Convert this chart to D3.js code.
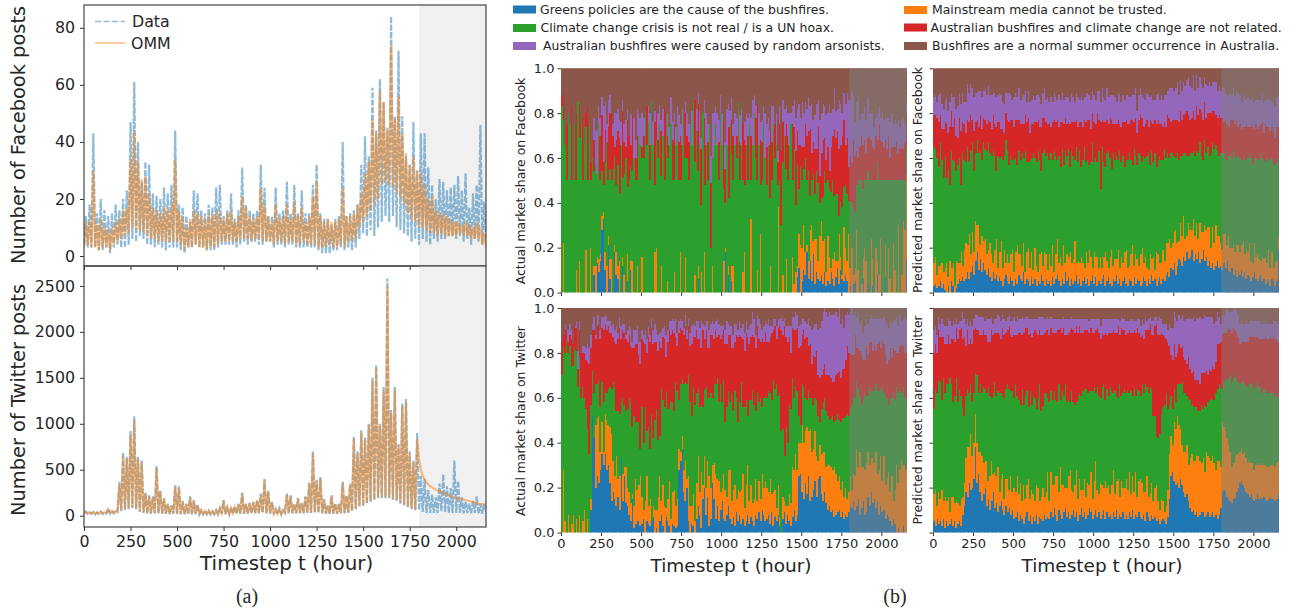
<!DOCTYPE html>
<html><head><meta charset="utf-8">
<script src="https://cdn.jsdelivr.net/npm/d3@7"></script>
<style>html,body{margin:0;background:#fff}svg{display:block}text{font-family:"DejaVu Sans";fill:#262626}</style>
</head><body><svg id="c" width="1296" height="614"></svg>
<script>
const topics=["Greens policies are the cause of the bushfires.","Climate change crisis is not real / is a UN hoax.","Australian bushfires were caused by random arsonists.","Mainstream media cannot be trusted.","Australian bushfires and climate change are not related.","Bushfires are a normal summer occurrence in Australia."];
const xTicks=[0,250,500,750,1000,1250,1500,1750,2000];
const fbTicks=[0,20,40,60,80];
const twTicks=[0,500,1000,1500,2000,2500];
const shareTicks=[0,0.2,0.4,0.6,0.8,1];
const fbData=[4,14,3,18,3,43,3,15,2,20,2,16,3,14,1,15,3,18,4,16,
3,20,3,23,4,47,6,61,5,40,7,26,6,33,4,32,4,22,3,21,
4,20,3,24,2,22,3,25,3,44,3,18,2,17,1,14,3,12,3,23,
4,22,3,16,3,15,2,18,2,17,2,24,3,25,4,14,4,16,4,22,
4,13,3,16,4,31,5,18,4,16,5,15,5,16,4,32,4,24,5,14,
5,14,3,24,4,15,4,16,3,26,4,15,4,25,3,15,3,23,3,15,
3,15,3,25,3,32,2,15,1,13,1,13,1,11,2,13,2,14,3,40,
2,14,3,15,2,16,3,18,6,32,8,42,7,35,9,59,7,44,10,62,
12,54,14,45,12,84,14,49,10,72,9,49,8,35,7,32,5,47,6,30,
4,43,6,43,5,31,4,25,6,20,5,27,6,26,6,23,7,24,7,25,
6,28,7,23,5,29,6,17,4,22,6,25,5,46,4,19,6];
const fbOMM=[3,12,4,12,3,30,3,11,2,13,3,10,3,9,2,10,4,12,5,13,
6,16,7,17,8,34,10,44,9,33,9,27,8,28,7,22,6,17,6,16,
5,15,5,17,5,16,5,18,5,34,5,16,4,14,2,10,3,13,3,16,
4,15,3,14,3,13,2,15,3,14,3,16,4,15,5,13,5,15,5,16,
5,12,5,14,6,21,6,17,6,14,5,13,6,14,6,24,5,18,5,14,
5,12,4,18,5,13,5,14,4,18,5,13,5,19,4,14,4,17,5,12,
4,14,4,21,4,26,3,14,3,12,3,13,4,12,3,12,3,13,4,24,
3,14,5,14,5,15,6,18,10,22,12,29,14,33,16,48,18,43,20,58,
25,54,26,44,25,74,24,48,22,56,20,43,18,36,15,32,13,35,12,30,
10,29,10,25,9,20,8,21,8,16,7,15,8,15,7,14,7,13,7,12,
7,12,8,11,7,12,7,11,6,10,6,12,6,10,4,8,3];
const twData=[25,45,20,35,20,40,15,35,20,45,20,40,25,75,25,55,25,50,40,370,
50,690,60,640,70,920,80,1080,70,640,40,600,30,250,20,220,20,210,25,540,
25,270,20,190,20,130,15,110,20,330,20,320,15,160,15,130,15,210,15,170,
15,120,15,60,15,55,15,55,15,50,15,60,15,80,20,170,15,90,15,90,
20,100,20,130,20,250,20,130,20,140,25,150,25,170,25,240,30,400,25,270,
20,150,15,70,15,80,15,60,30,240,25,220,25,130,25,190,25,140,25,210,
30,360,30,700,35,390,30,420,25,180,20,110,20,220,20,130,20,130,25,370,
25,220,30,350,50,860,70,700,100,930,100,850,130,1000,150,1500,170,1640,190,1000,
190,1400,190,2580,190,1150,170,1400,160,780,130,1220,110,1270,90,700,70,600,60,900,
60,430,40,400,30,280,30,230,30,200,30,350,50,450,40,320,30,300,30,600,
30,380,30,200,25,150,30,130,25,160,30,210,20,130,20,130,40];
const twOMM=[30,42,25,35,25,38,20,35,25,42,25,38,30,70,30,52,30,48,50,340,
60,650,70,620,80,880,90,1040,80,620,50,580,35,240,30,210,30,200,30,520,
30,260,25,180,25,125,20,105,25,315,25,300,20,150,20,125,20,200,20,165,
20,115,20,58,20,52,20,52,20,48,20,58,20,78,25,165,20,85,20,85,
25,95,25,125,25,240,25,125,25,135,30,145,30,165,30,230,35,390,30,260,
25,145,20,65,20,75,20,58,35,230,30,215,30,125,30,185,30,135,30,205,
35,350,35,680,40,380,35,410,30,175,25,105,25,215,25,125,25,125,30,360,
30,215,35,340,55,840,75,680,110,900,110,830,140,980,160,1470,180,1610,200,980,
200,1370,200,2500,200,1120,180,1370,170,760,140,1190,120,1240,100,680,80,580,70,
840,620,500,430,400,360,340,320,310,295,285,275,265,255,245,240,230,225,215,205,
195,190,185,180,180,175,170,165,160,155,150,145,140,130,125,125,120];
const fbActualGreens=[0,0,0,0,0,0,0,0,0,0,0,0,0,0,0,0,0,0,0,0,8,0,13,9,
14,28,33,10,0,21,6,0,0,18,8,6,0,0,12,0,0,5,0,10,0,0,0,0,
0,0,0,0,0,0,0,0,0,0,0,0,0,0,0,0,0,0,0,0,0,0,0,0,
0,0,0,0,0,0,0,0,0,0,0,0,0,6,0,0,0,0,0,0,0,0,0,0,
0,0,0,0,0,0,18,0,8,0,5,0,0,0,0,0,0,0,0,0,0,0,0,0,
0,0,0,0,0,0,0,0,0,0,0,0,0,0,0,0,0,0,0,0,0,0,0,0,
0,0,0,7,11,0,5,10,8,18,6,14,5,17,4,9,6,5,8,4,9,3,5,4,
9,6,3,7,11,4,10,6,5,8,5,0,3,0,4,5,0,0,0,0,6,0,0,4,
0,0,3,0,0,8,0,0,0,0,7,0,0,0,0,0,0,0,0,0,0,0,0,15];
const fbActualMedia=[0,22,0,0,0,0,0,0,0,10,0,14,0,0,0,19,0,0,20,0,4,12,3,6,
3,6,3,8,12,4,9,15,0,3,10,6,14,0,4,8,0,12,0,4,14,0,0,12,
0,0,16,0,0,0,0,0,0,0,18,20,0,0,12,0,0,0,5,0,0,0,9,0,
0,0,18,0,0,16,0,0,0,0,0,8,0,6,0,9,0,18,0,0,0,0,12,0,
0,0,0,0,0,14,2,0,4,0,7,12,0,0,0,0,0,9,18,0,0,0,33,0,
0,0,10,0,26,0,0,0,0,0,12,0,0,0,0,38,0,0,8,0,15,0,0,0,
16,4,9,5,15,21,15,20,10,3,8,14,25,6,20,15,8,20,24,19,15,6,20,12,
2,9,15,7,3,22,6,2,24,12,9,26,8,20,4,6,28,10,0,4,10,20,14,0,
0,24,12,0,20,6,8,24,0,0,14,0,20,6,0,22,10,0,30,0,8,32,28,38];
const fbActualClimate=[83,55,66,50,80,75,50,50,75,40,85,55,75,50,66,55,50,75,30,60,42,45,37,60,
33,20,12,40,55,25,40,35,55,40,30,45,30,66,35,45,60,30,50,42,40,60,50,38,
70,66,44,60,80,66,75,50,85,66,30,48,60,75,40,70,50,80,55,66,75,50,41,66,
75,50,32,66,80,44,60,50,75,66,85,50,72,42,66,30,80,30,66,50,75,20,48,66,
75,66,50,80,66,32,20,66,30,75,50,38,66,60,85,50,66,41,30,66,50,75,17,66,
80,60,40,66,22,50,75,60,48,66,30,50,75,60,66,10,50,30,50,70,40,50,66,75,
34,60,30,45,20,35,30,25,42,29,40,15,20,30,20,30,35,15,10,20,30,40,25,30,
34,35,25,30,30,8,25,30,18,28,30,15,30,20,30,25,20,40,50,46,30,30,36,50,
50,26,35,50,30,44,42,26,50,50,29,50,30,44,50,28,40,50,20,50,42,18,22,12];
const fbActualRelated=[5,8,0,25,0,0,33,0,0,30,0,15,0,28,0,6,33,0,8,0,14,0,0,0,
20,25,10,15,0,24,25,30,15,4,20,15,25,0,30,14,5,30,20,10,25,0,10,20,
0,0,5,10,0,17,0,16,0,0,28,12,8,0,20,0,33,0,10,0,0,18,25,0,
0,17,20,0,0,20,10,17,0,0,0,28,0,30,0,25,0,30,0,17,0,29,0,0,
0,0,17,0,0,30,15,0,32,0,15,20,0,10,0,17,0,25,20,0,20,0,20,0,
0,18,33,0,20,17,0,0,17,0,30,17,0,15,0,10,25,33,18,0,20,20,0,0,
25,10,24,15,20,10,15,10,15,20,18,30,12,14,20,10,25,12,20,25,15,10,15,8,
20,20,30,25,28,30,25,32,30,18,25,15,20,18,30,25,15,10,15,20,20,18,12,15,
20,18,15,14,20,10,25,18,17,15,18,14,20,10,15,15,15,17,12,14,15,14,17,14];
const fbActualArson=[0,0,0,0,0,0,0,0,0,0,0,0,0,0,0,0,0,0,0,0,10,15,20,8,
8,8,25,12,8,12,8,0,5,15,12,10,8,10,5,8,12,5,0,14,0,18,8,12,
10,12,15,8,0,0,8,14,0,10,5,0,12,8,5,12,0,0,10,8,12,8,5,8,
8,12,5,16,0,5,10,8,0,15,0,0,10,5,15,5,0,8,14,8,0,12,20,14,
8,14,10,8,14,0,12,16,10,6,10,5,14,8,0,12,16,0,8,14,8,5,8,20,
8,5,0,14,8,10,8,20,10,12,0,16,8,0,14,5,8,0,10,12,8,10,14,5,
8,12,15,10,18,12,20,15,10,12,15,10,22,10,15,20,12,25,18,16,14,20,15,30,
15,12,18,12,10,22,18,10,12,18,20,30,25,32,20,15,22,28,12,10,14,15,15,18,
10,12,15,10,8,12,8,10,14,12,10,14,8,16,15,10,12,8,15,10,12,14,8,6];
const fbPredGreens=[3,4,2,3,5,2,4,1,0,3,0,5,3,0,2,4,6,5,7,5,6,9,6,9,
12,8,14,18,10,15,9,13,10,8,11,7,5,9,6,8,5,7,5,3,6,8,5,4,
7,5,3,6,4,8,6,5,9,4,6,5,3,7,4,6,3,5,4,8,5,3,6,4,
5,3,7,4,6,8,5,3,6,4,9,5,7,3,6,4,5,8,4,6,3,5,7,4,
6,3,5,8,4,7,3,5,4,6,8,3,5,7,4,3,6,5,8,4,6,3,5,7,
4,3,6,5,3,7,4,6,5,3,4,7,5,3,6,4,8,5,6,3,5,7,4,6,
5,8,9,7,11,10,13,8,12,15,14,12,16,14,18,15,16,19,14,17,15,18,13,15,
19,14,16,12,14,11,13,10,12,14,11,12,10,13,11,14,10,9,11,8,10,7,9,8,
10,7,9,6,8,7,5,7,9,6,5,7,8,5,6,4,6,5,3,6,5,3,5,19];
const fbPredMedia=[10,12,6,9,7,11,5,10,13,4,14,6,10,3,12,9,7,13,5,14,16,12,20,8,
15,10,18,12,20,6,16,10,14,9,8,15,12,4,13,16,6,11,18,8,13,5,12,9,
10,14,6,12,17,9,11,7,13,5,12,15,8,11,6,14,9,4,13,10,7,15,11,6,
12,9,14,5,11,16,8,13,6,17,4,12,9,15,7,11,18,5,10,7,13,8,4,14,
7,16,11,3,14,9,13,6,12,5,8,15,9,4,12,16,6,10,7,15,5,13,8,11,
15,8,6,12,18,5,13,9,7,14,16,6,11,8,4,13,7,11,4,15,12,6,9,13,
9,14,13,17,9,12,14,20,10,8,17,13,18,10,7,16,12,9,19,8,16,6,18,12,
8,16,12,17,15,9,16,12,18,11,14,10,9,13,15,7,15,11,9,13,8,14,12,10,
11,16,8,13,10,15,9,6,13,10,12,8,6,11,9,12,7,14,8,12,6,10,9,5];
const fbPredClimate=[52,48,52,44,55,46,42,50,38,48,34,52,46,55,40,44,47,30,50,40,36,44,32,46,
40,36,30,38,32,42,34,44,40,46,48,40,44,50,42,30,50,42,38,48,42,55,46,44,
44,40,50,42,36,46,42,50,38,54,40,38,48,42,52,40,46,54,42,36,50,46,44,52,
42,50,38,54,44,35,48,40,52,36,50,44,48,38,50,46,36,52,44,50,40,46,54,40,
46,38,42,56,40,44,42,52,30,54,42,38,48,52,44,36,50,44,46,40,52,42,48,38,
40,48,50,42,36,52,44,42,50,44,38,48,44,50,52,40,48,42,52,38,42,48,46,40,
50,38,40,36,42,40,34,32,40,36,30,36,28,38,36,30,34,34,30,36,32,38,36,34,
32,38,34,36,32,42,38,42,36,38,36,40,44,36,34,38,36,42,40,42,42,40,40,42,
38,36,44,40,42,40,46,44,38,44,42,44,48,44,44,42,47,40,48,42,46,44,44,36];
const fbPredRelated=[14,15,18,20,12,14,22,15,24,16,26,18,15,20,16,12,18,24,14,16,13,12,18,16,
10,18,14,9,12,16,14,11,13,12,10,14,12,16,14,20,15,16,12,14,10,12,14,19,
16,18,15,17,20,14,16,13,15,16,18,20,12,15,13,16,18,14,15,20,16,14,15,13,
16,12,17,14,15,18,13,20,12,18,15,14,12,19,13,15,17,12,16,13,20,15,12,18,
18,20,15,13,18,15,22,14,30,12,18,20,15,12,18,22,13,16,14,18,12,16,15,20,
18,16,13,18,20,12,17,14,15,18,20,13,15,16,12,20,13,17,15,19,18,14,16,15,
12,14,17,18,14,15,16,17,15,17,20,16,17,18,20,18,15,16,18,16,20,17,15,19,
18,17,16,15,19,18,14,17,13,15,18,16,15,14,17,16,13,15,17,14,15,16,13,15,
14,15,13,16,14,12,15,17,13,15,14,15,13,16,12,17,14,15,13,14,15,12,16,14];
const fbPredArson=[8,9,7,12,10,11,9,10,12,10,11,8,13,9,12,14,11,12,13,10,14,16,13,14,
14,15,13,12,16,11,14,12,14,13,15,12,15,10,14,13,12,13,15,12,13,9,12,13,
11,9,13,12,10,14,11,12,13,11,9,12,14,11,13,10,12,11,13,10,11,13,10,12,
10,13,9,12,11,9,14,10,13,11,9,12,11,10,13,11,9,12,13,10,11,12,10,13,
12,11,13,10,12,11,10,13,9,14,11,10,14,12,10,11,13,12,10,12,13,11,12,10,
11,13,12,10,11,12,13,10,11,12,10,13,11,12,14,10,12,11,9,13,12,11,13,12,
12,14,11,13,15,14,13,14,17,12,14,13,15,12,14,17,15,13,16,13,14,12,14,13,
14,11,15,12,14,12,13,13,15,12,13,12,14,15,12,13,14,12,11,14,12,13,15,13,
12,13,14,11,13,12,11,13,12,11,13,12,11,13,14,11,13,12,14,11,12,14,13,13];
const twActGreens=[0,0,0,0,0,0,0,0,0,0,0,0,0,0,0,0,0,0,10,52,42,20,25,22,
28,35,30,35,28,30,22,14,18,15,12,16,10,33,14,25,13,12,8,5,15,2,4,5,
5,3,4,6,0,5,4,3,5,7,0,2,0,5,8,3,0,7,5,3,0,4,3,2,
3,28,32,37,18,14,20,5,0,4,3,0,6,12,8,2,15,20,8,16,3,6,22,15,
6,12,5,10,14,6,5,8,12,6,4,7,3,9,5,8,4,6,3,5,8,4,7,5,
3,8,6,9,5,10,8,5,6,8,4,9,3,7,5,8,3,0,6,9,4,8,5,3,
7,10,5,8,25,26,18,15,22,17,25,14,16,19,23,16,24,25,17,14,18,13,10,12,
9,10,7,8,9,10,7,9,6,8,7,9,12,11,14,10,12,15,8,11,14,8,9,16,
12,18,13,15,11,14,8,12,9,10,6,8,7,5,3,6,4,0,2,0,0,3,0,0];
const twActMedia=[0,28,5,0,8,0,4,8,0,6,0,8,0,5,10,0,6,0,5,0,0,28,26,30,
8,14,6,18,22,18,25,30,14,10,22,8,15,0,12,4,16,8,10,8,2,10,20,14,
16,22,12,4,14,20,8,12,0,5,10,8,16,20,6,18,12,4,10,20,6,14,16,10,
12,9,4,6,10,18,4,20,12,8,14,5,16,22,10,25,6,14,12,16,22,14,8,16,
20,12,18,8,6,20,14,8,16,22,10,12,18,6,14,10,15,20,8,16,22,10,14,8,
12,16,8,14,10,16,12,18,14,10,20,8,15,12,6,13,4,0,10,5,8,4,12,10,
22,18,30,20,15,14,30,25,23,30,20,32,20,18,22,18,8,14,18,22,18,16,20,18,
20,18,22,18,14,15,12,14,10,12,8,9,13,8,12,15,25,14,28,18,15,20,22,20,
18,15,20,16,25,12,20,22,14,24,15,16,20,13,22,8,15,30,20,28,32,27,30,28];
const twActClimate=[70,55,75,85,72,83,70,66,82,75,65,70,60,60,50,55,40,35,42,20,20,18,15,16,
20,18,22,10,12,16,18,20,35,40,20,30,28,25,34,28,25,35,42,45,30,40,25,30,
28,12,40,30,42,20,35,22,48,30,40,45,25,18,50,38,44,52,40,32,52,40,35,55,
48,22,30,25,38,35,42,45,46,40,48,52,40,30,38,30,35,30,45,28,35,42,30,35,
40,45,35,48,38,42,30,40,35,30,48,35,42,45,30,40,48,30,45,38,22,45,38,50,
42,30,48,35,45,30,40,38,40,45,38,42,50,45,55,40,55,45,30,20,35,28,40,42,
40,32,30,35,12,8,18,25,15,12,18,14,24,20,15,25,20,10,20,22,24,25,22,20,
22,24,20,24,30,25,30,28,35,32,38,34,30,38,35,35,30,35,25,28,30,34,30,25,
35,30,30,32,30,38,35,30,42,28,40,36,30,42,35,48,40,35,40,35,30,35,30,32];
const twActRelated=[15,5,10,5,5,5,12,10,10,10,8,12,20,15,20,22,30,40,25,18,28,20,26,25,
30,24,32,30,28,28,24,25,20,20,30,32,38,28,30,32,32,30,28,25,35,30,35,35,
30,38,30,45,28,35,40,48,38,42,35,30,40,42,18,28,30,15,30,35,30,32,35,20,
20,30,25,22,22,25,20,22,25,32,22,30,28,22,30,25,34,22,25,22,22,26,28,20,
24,18,30,20,30,22,35,28,25,30,20,28,22,28,38,30,20,30,25,30,35,25,28,25,
30,28,30,28,25,30,25,28,25,22,25,30,22,28,20,30,30,45,42,58,40,45,30,25,
22,30,25,28,30,35,22,25,26,28,20,24,15,22,18,22,18,20,15,15,15,16,18,20,
18,15,18,20,18,22,20,22,22,25,30,28,25,22,18,28,15,18,20,22,18,15,22,18,
20,22,18,20,15,20,22,18,20,22,18,15,20,22,18,20,22,15,18,20,22,18,20,20];
const twActArson=[0,0,3,0,5,5,4,0,0,3,8,4,0,3,3,5,8,7,6,3,6,2,5,4,
4,5,6,4,6,2,5,3,6,5,8,3,5,6,3,4,2,5,4,8,3,8,6,8,
6,10,4,3,6,6,5,3,4,6,8,5,7,4,8,4,6,10,5,4,6,5,5,8,
6,5,4,4,3,5,4,3,6,8,6,5,4,8,5,12,3,6,4,12,8,5,6,7,
4,8,5,6,4,2,6,10,5,4,10,6,8,5,3,6,4,7,8,5,3,8,6,10,
8,6,5,9,8,4,7,5,8,10,5,3,5,3,6,4,3,6,6,3,5,7,5,12,
5,6,8,6,10,10,7,5,8,6,12,8,15,12,15,12,20,22,24,25,27,28,26,28,
28,30,30,28,25,28,24,22,18,20,15,17,18,24,18,10,14,15,12,15,12,15,12,14,
10,12,14,12,14,12,10,13,10,12,15,18,14,12,15,12,14,16,12,14,10,12,15,15];
const twPredGreens=[5,3,6,4,5,3,6,2,5,3,4,6,3,5,2,4,5,3,8,12,18,16,22,19,
20,24,38,22,26,18,14,17,20,12,15,10,14,18,11,13,9,12,14,10,8,12,9,11,
8,10,6,7,9,5,8,6,4,7,9,5,8,4,7,5,8,4,7,6,5,8,6,7,
6,9,7,11,8,5,10,8,6,9,11,7,9,6,8,10,7,9,5,8,11,7,9,6,
8,11,9,6,8,10,7,9,6,8,10,6,9,7,8,6,9,7,10,6,8,7,9,6,
8,6,9,7,10,6,8,7,9,7,6,8,5,9,7,5,8,6,7,5,6,4,5,6,
5,4,7,15,25,27,23,21,22,20,24,21,18,16,17,14,11,9,10,8,9,7,8,9,
9,7,8,9,7,8,9,7,8,6,8,11,18,19,18,16,15,14,13,15,16,18,20,22,
23,21,20,18,17,16,17,15,14,15,17,15,16,15,16,15,14,15,16,15,15,14,15,17];
const twPredMedia=[12,16,6,14,10,16,8,14,9,13,5,10,13,8,12,9,7,12,8,10,15,22,16,25,
14,16,15,18,10,18,20,14,12,20,8,15,18,8,16,12,20,6,10,16,7,12,15,8,
17,8,14,11,16,12,14,8,17,8,12,19,7,15,10,9,13,16,7,10,15,8,12,20,
8,18,14,10,17,20,8,21,15,12,9,13,16,22,11,8,14,19,10,16,8,12,15,10,
14,10,18,9,15,22,12,8,16,13,10,17,11,14,9,15,19,10,13,18,8,16,11,14,
16,13,18,10,15,12,19,9,14,17,16,10,13,16,9,12,14,8,13,16,8,6,10,8,
4,8,12,20,18,12,26,25,30,28,22,18,18,20,22,16,22,26,22,24,25,27,24,22,
24,20,28,25,26,24,25,24,20,26,24,18,31,28,27,26,24,22,16,16,18,17,15,14,
14,14,16,15,14,16,14,16,14,15,14,15,15,15,14,15,15,14,14,15,15,15,16,15];
const twPredClimate=[38,45,50,50,52,40,55,46,52,50,60,50,42,48,55,45,52,46,40,30,28,26,24,22,
24,22,18,30,26,30,28,34,32,30,42,36,28,36,40,36,34,44,38,35,45,40,42,45,
38,45,40,48,36,42,35,50,36,46,42,32,48,38,44,46,34,40,52,38,36,46,44,33,
44,36,38,42,34,33,48,30,42,40,46,38,34,30,44,40,36,30,46,38,42,44,40,48,
40,42,36,48,42,30,46,44,38,44,46,36,44,40,48,42,34,46,38,36,50,38,42,44,
38,44,35,46,36,46,34,48,40,37,44,44,48,40,46,48,42,38,32,22,28,34,38,42,
48,50,36,22,18,16,15,12,14,18,20,28,26,26,22,30,26,22,24,24,22,20,22,26,
22,30,20,24,26,28,25,28,34,32,34,36,15,20,24,26,30,34,38,38,36,34,32,30,
30,32,30,32,34,34,35,35,36,35,36,35,34,32,34,33,33,33,33,32,32,32,31,28];
const twPredRelated=[25,20,18,22,20,28,18,22,18,22,15,20,28,24,22,28,26,30,30,35,22,26,22,20,
26,28,20,20,28,22,26,25,24,26,20,24,30,26,22,28,26,26,24,30,28,25,24,28,
25,24,28,22,27,30,32,24,32,30,28,32,26,30,28,30,34,28,24,34,32,27,28,30,
30,28,30,26,30,32,24,32,26,30,22,30,30,32,28,32,32,34,28,30,28,26,26,26,
28,26,28,26,24,28,26,28,26,24,22,30,24,28,24,26,28,26,28,32,22,30,28,26,
26,26,28,26,28,26,28,27,26,26,22,24,24,25,28,28,24,36,40,50,46,44,36,32,
30,24,30,26,18,22,20,20,14,18,16,16,16,15,14,18,14,14,16,12,12,14,12,14,
16,14,16,12,14,12,15,14,14,20,18,20,24,22,20,22,22,20,22,22,20,20,20,18,
18,18,19,20,20,21,22,21,23,22,20,21,21,24,22,24,24,24,24,24,25,25,24,25];
const twPredArson=[10,8,8,6,6,8,6,8,8,7,10,6,8,8,4,7,4,3,12,8,10,5,8,8,
8,5,6,7,6,8,8,6,6,8,10,10,6,5,6,6,8,8,8,6,7,5,6,5,
6,7,8,6,8,6,6,8,6,5,5,7,6,8,6,5,6,8,6,8,8,6,5,6,
7,5,6,6,6,5,5,4,6,5,7,7,6,5,5,5,6,3,6,3,6,6,5,5,
5,5,4,6,6,5,4,6,6,6,7,6,7,6,6,6,5,6,6,3,6,5,5,5,
6,5,4,6,6,4,5,4,6,5,7,7,6,4,5,3,6,6,4,3,6,8,6,5,
6,7,5,10,12,14,14,18,14,13,13,14,16,18,20,18,22,24,24,26,28,27,30,24,
24,26,24,26,23,24,22,20,18,14,12,8,9,8,10,9,7,8,9,8,9,10,10,9,
9,8,8,9,8,7,7,7,7,7,7,8,7,8,7,7,7,7,6,7,7,8,8,8];

const BLUE="#1f77b4",ORANGE="#ff7f0e",GREEN="#2ca02c",RED="#d62728",PURPLE="#9467bd",BROWN="#8c564b";
const svg=d3.select("#c"),tMax=2160,split=1800,lineStep=10,barStep=10;
const defs=svg.append("defs");let clipId=0;
function clip(x0,x1,y0,y1){const id="cl"+(clipId++);defs.append("clipPath").attr("id",id).append("rect").attr("x",x0).attr("y",y0).attr("width",x1-x0).attr("height",y1-y0);return "url(#"+id+")";}
function tickStyle(g,size){g.select(".domain").remove();g.selectAll("line").attr("stroke","#333").attr("stroke-width",1);g.selectAll("text").attr("font-size",size).attr("fill","#262626");}

function linePanel(o){
  const x=d3.scaleLinear().domain([0,tMax]).range([84,486]);
  const y=d3.scaleLinear().domain(o.domain).range([o.bottom,o.top]);
  svg.append("rect").attr("x",x(split)).attr("y",o.top).attr("width",x(tMax)-x(split)).attr("height",o.bottom-o.top).attr("fill","#f0f0f0");
  const l=d3.line().x((d,i)=>x(i*lineStep)).y(d=>y(d));
  const g=svg.append("g").attr("clip-path",clip(84,486,o.top,o.bottom));
  g.append("path").attr("d",l(o.data)).attr("fill","none").attr("stroke",BLUE).attr("stroke-opacity",.5).attr("stroke-width",2.2).attr("stroke-dasharray","6,1.5");
  g.append("path").attr("d",l(o.omm)).attr("fill","none").attr("stroke",ORANGE).attr("stroke-opacity",.5).attr("stroke-width",2.2);
  svg.append("rect").attr("x",84).attr("y",o.top).attr("width",402).attr("height",o.bottom-o.top).attr("fill","none").attr("stroke","#444").attr("stroke-width",1.2);
  const ya=svg.append("g").attr("transform","translate(84,0)").call(d3.axisLeft(y).tickValues(o.ticks).tickFormat(d3.format("d")).tickSize(4).tickPadding(5));tickStyle(ya,15.8);
  const xa=svg.append("g").attr("transform","translate(0,"+o.bottom+")").call(d3.axisBottom(x).tickValues(xTicks).tickSize(4).tickPadding(5).tickFormat(o.labels?d3.format("d"):""));tickStyle(xa,15.8);
  svg.append("text").attr("transform","translate(18,"+o.labelY+") rotate(-90)").attr("dy","0.36em").attr("text-anchor","middle").attr("font-size",19.4).text(o.label);
}

function stackPanel(o){
  const x=d3.scaleLinear().domain([0,tMax]).range([o.left,o.left+346]);
  const y=d3.scaleLinear().domain([0,1]).range([o.bottom,o.top]);
  const keys=["a","b","c","d","e","f"],cols=[BLUE,ORANGE,GREEN,RED,PURPLE,BROWN];
  const rows=o.series[0].map((_,i)=>{const r={t:i*barStep};let s=0;o.series.forEach((a,j)=>{r[keys[j]]=a[i]/100;s+=a[i];});r.f=Math.max(0,100-s)/100;return r;});
  const st=d3.stack().keys(keys)(rows);
  const g=svg.append("g").attr("clip-path",clip(o.left,o.left+346,o.top,o.bottom)).attr("shape-rendering","crispEdges");
  g.selectAll("g").data(st).join("g").attr("fill",(d,i)=>cols[i]).selectAll("rect").data(d=>d).join("rect")
    .attr("x",d=>x(d.data.t)).attr("width",x(barStep)-x(0)+0.4).attr("y",d=>y(d[1])).attr("height",d=>Math.max(0,y(d[0])-y(d[1])));
  svg.append("rect").attr("x",x(split)).attr("y",o.top).attr("width",x(tMax)-x(split)).attr("height",o.bottom-o.top).attr("fill","#808080").attr("fill-opacity",.48);
  const ya=svg.append("g").attr("transform","translate("+o.left+",0)").call(d3.axisLeft(y).tickValues(shareTicks).tickFormat(o.yLabels?d3.format(".1f"):"").tickSize(3.5).tickPadding(3));tickStyle(ya,13);
  const xa=svg.append("g").attr("transform","translate(0,"+o.bottom+")").call(d3.axisBottom(x).tickValues(xTicks).tickFormat(o.xLabels?d3.format("d"):"").tickSize(3.5).tickPadding(3));tickStyle(xa,13);
  svg.append("text").attr("transform","translate("+o.labelX+","+o.labelY+") rotate(-90)").attr("dy","0.36em").attr("text-anchor","middle").attr("font-size",12.4).text(o.label);
}

linePanel({domain:[-3.5,88],top:5,bottom:266,data:fbData,omm:fbOMM,ticks:fbTicks,labels:false,label:"Number of Facebook posts",labelY:135});
linePanel({domain:[-123,2717],top:266,bottom:527,data:twData,omm:twOMM,ticks:twTicks,labels:true,label:"Number of Twitter posts",labelY:400});
stackPanel({left:561,top:68.3,bottom:292.5,series:[fbActualGreens,fbActualMedia,fbActualClimate,fbActualRelated,fbActualArson],yLabels:true,xLabels:false,label:"Actual market share on Facebook",labelX:521,labelY:181});
stackPanel({left:933,top:68.3,bottom:292.5,series:[fbPredGreens,fbPredMedia,fbPredClimate,fbPredRelated,fbPredArson],yLabels:false,xLabels:false,label:"Predicted market share on Facebook",labelX:918,labelY:180});
stackPanel({left:561,top:308,bottom:532.5,series:[twActGreens,twActMedia,twActClimate,twActRelated,twActArson],yLabels:true,xLabels:true,label:"Actual market share on Twitter",labelX:521,labelY:421});
stackPanel({left:933,top:308,bottom:532.5,series:[twPredGreens,twPredMedia,twPredClimate,twPredRelated,twPredArson],yLabels:false,xLabels:true,label:"Predicted market share on Twitter",labelX:918,labelY:420});

svg.append("line").attr("x1",95).attr("x2",125).attr("y1",21.5).attr("y2",21.5).attr("stroke",BLUE).attr("stroke-opacity",.5).attr("stroke-width",1.6).attr("stroke-dasharray","6,2.5");
svg.append("line").attr("x1",95).attr("x2",125).attr("y1",43).attr("y2",43).attr("stroke",ORANGE).attr("stroke-opacity",.5).attr("stroke-width",1.6);
[["Data",132,21.5],["OMM",131,43]].forEach(d=>svg.append("text").attr("x",d[1]).attr("y",d[2]).attr("dy","0.36em").attr("font-size",15.8).text(d[0]));

const legendCols=[BLUE,GREEN,PURPLE,ORANGE,RED,BROWN];
const legendPos=[[513,540,9.5],[513,540.5,28],[513,543,46],[904,932,10],[904,930.5,27.5],[904,932,46]];
const legendText=[topics[0],topics[1],topics[2],topics[3],topics[4],topics[5]];
legendPos.forEach((p,i)=>{
  svg.append("rect").attr("x",p[0]).attr("y",p[2]-4).attr("width",23).attr("height",8).attr("fill",legendCols[i]);
  svg.append("text").attr("x",p[1]).attr("y",p[2]).attr("dy","0.36em").attr("font-size",12.45).text(legendText[i]);
});

[[286.7,563,19.9],[731,565,18.5],[1102,565,18.5]].forEach(d=>svg.append("text").attr("x",d[0]).attr("y",d[1]).attr("dy","0.36em").attr("text-anchor","middle").attr("font-size",d[2]).text("Timestep t (hour)"));
[["(a)",247],["(b)",895]].forEach(d=>svg.append("text").attr("x",d[1]).attr("y",596).attr("dy","0.33em").attr("text-anchor","middle").attr("font-size",20).style("font-family","'Liberation Serif'").attr("fill","#000").text(d[0]));
</script></body></html>
